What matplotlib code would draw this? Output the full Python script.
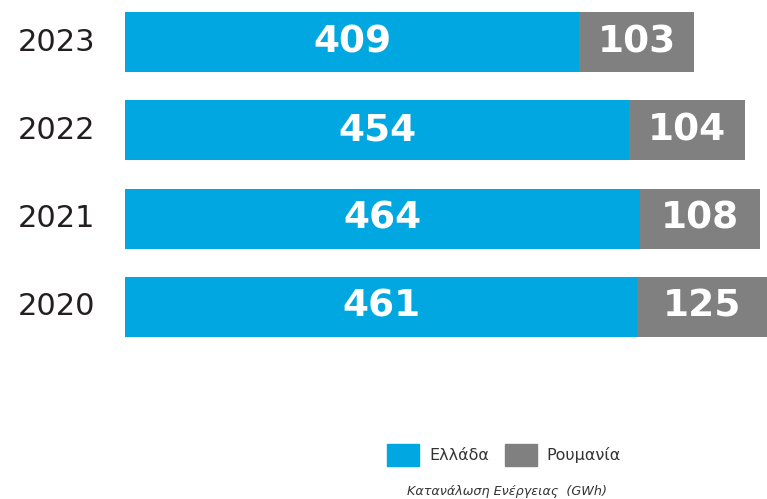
import matplotlib
matplotlib.use("Agg")
from matplotlib import pyplot as plt
from matplotlib.patches import Patch
import numpy as np

# data
years = ["2020", "2021", "2022", "2023"]
greece = [461, 464, 454, 409]
romania = [125, 108, 104, 103]
series_names = ["Ελλάδα", "Ρουμανία"]
caption = "Κατανάλωση Ενέργειας  (GWh)"

blue = "#00A7E1"
grey = "#808080"

plt.rcParams['font.family'] = ['DejaVu Sans']

fig = plt.figure(figsize=(7.67, 4.99), dpi=100)
ax = fig.add_axes([125/767, (499-337)/499, 1-125/767, 325/499])

y = np.arange(len(years))
h = 0.68
ax.barh(y, greece, height=h, color=blue)
ax.barh(y, romania, left=greece, height=h, color=grey)

xmax = 578
ax.set_xlim(0, xmax)
ax.set_ylim(-h/2, len(years)-1+h/2)

for i in range(len(years)):
    ax.text(greece[i]/2, y[i], str(greece[i]), ha='center', va='center',
            color='white', fontsize=27, fontweight='bold')
    right = min(greece[i]+romania[i], xmax)
    ax.text((greece[i]+right)/2, y[i], str(romania[i]), ha='center', va='center',
            color='white', fontsize=27, fontweight='bold')
    ax.text(-0.106, y[i], years[i], transform=ax.get_yaxis_transform(),
            ha='center', va='center', fontsize=22, color='#231f20')

ax.axis('off')

handles = [Patch(color=blue), Patch(color=grey)]
fig.legend(handles, series_names, loc='center', bbox_to_anchor=(504/767, 1-455/499),
           ncol=2, frameon=False, fontsize=11.5, handlelength=2.0, handleheight=1.8,
           handletextpad=0.6, columnspacing=1.0, labelcolor='#333333')
fig.text(507/767, 1-492/499, caption, ha='center', va='center',
         fontsize=9.2, style='italic', color='#333333')

fig.savefig("out.png", dpi=100)
